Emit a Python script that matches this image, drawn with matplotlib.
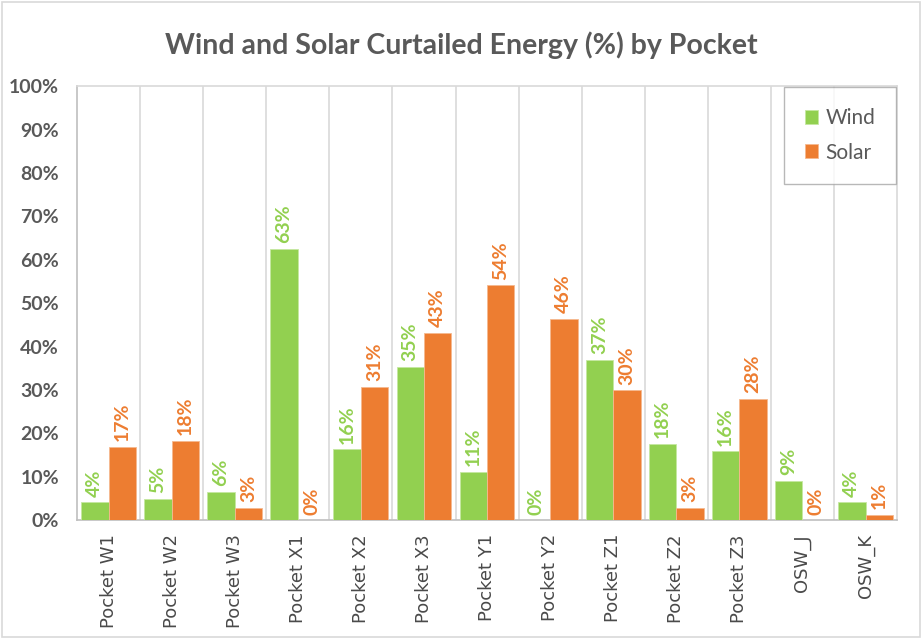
import numpy as np
import matplotlib
matplotlib.use("Agg")
import matplotlib.pyplot as plt
from matplotlib.patches import Rectangle

# ─── Data ────────────────────────────────────────────────────────────────────
categories = ["Pocket W1", "Pocket W2", "Pocket W3", "Pocket X1", "Pocket X2",
              "Pocket X3", "Pocket Y1", "Pocket Y2", "Pocket Z1", "Pocket Z2",
              "Pocket Z3", "OSW_J", "OSW_K"]
wind  = [4.1, 4.9, 6.5, 62.6, 16.3, 35.3, 11.1, 0.0, 36.9, 17.6, 15.9, 9.1, 4.1]
solar = [16.9, 18.3, 2.9, 0.0, 30.7, 43.2, 54.1, 46.4, 29.9, 2.8, 28.0, 0.0, 1.3]
y_ticks = [0, 10, 20, 30, 40, 50, 60, 70, 80, 90, 100]

GREEN  = "#92D050"
ORANGE = "#ED7D31"
GREY   = "#595959"
GRID   = "#D9D9D9"

plt.rcParams["font.family"] = ["Lato", "DejaVu Sans"]

fig = plt.figure(figsize=(9.22, 6.39), dpi=100)
ax = fig.add_axes([0.0835, 0.186, 0.8895, 0.679])

x = np.arange(len(categories))
w = 0.435
b1 = ax.bar(x - w / 2, wind,  w, color=GREEN,  edgecolor="#C5E8A0", linewidth=0.6, label="Wind", zorder=3)
b2 = ax.bar(x + w / 2, solar, w, color=ORANGE, edgecolor="#F6B98F", linewidth=0.6, label="Solar", zorder=3)

# data labels
for bars, vals, col in ((b1, wind, GREEN), (b2, solar, ORANGE)):
    for rect, v in zip(bars, vals):
        ax.annotate(f"{v:.0f}%", (rect.get_x() + rect.get_width() / 2, v),
                    xytext=(0, 4), textcoords="offset points",
                    rotation=90, ha="center", va="bottom",
                    fontsize=14, fontweight="bold", color=col)

ax.set_xlim(-0.5, len(categories) - 0.5)
ax.set_ylim(0, 100)
ax.set_yticks(y_ticks)
ax.set_yticklabels([f"{t}%" for t in y_ticks], fontsize=14, fontweight="bold", color=GREY)
ax.set_xticks(x)
ax.set_xticklabels(categories, rotation=90, fontsize=13, color="#4A4A4A",
                   family="DejaVu Sans")
ax.tick_params(axis="x", length=0, pad=10)
ax.tick_params(axis="y", length=0, pad=13)

# vertical separators between categories
for b in np.arange(0.5, len(categories) - 0.5, 1):
    ax.axvline(b, color=GRID, linewidth=1.2, zorder=1)

for s in ax.spines.values():
    s.set_color(GRID)
    s.set_linewidth(1.2)
ax.spines["left"].set_color("#BFBFBF")
ax.spines["bottom"].set_color("#BFBFBF")

leg = ax.legend(loc="upper right", fontsize=15, frameon=True, fancybox=False,
                handlelength=0.65, handleheight=0.65, handletextpad=0.35,
                labelspacing=0.7, borderpad=1.0, borderaxespad=0.05,
                bbox_to_anchor=(1.0, 1.0))
leg.get_frame().set_edgecolor("#A6A6A6")
leg.get_frame().set_linewidth(1.0)
for t in leg.get_texts():
    t.set_color(GREY)

fig.text(0.5, 0.93, "Wind and Solar Curtailed Energy (%) by Pocket", ha="center",
         va="center", fontsize=20.5, fontweight="bold", color=GREY)

fig.patches.append(Rectangle((0.002, 0.003), 0.996, 0.994, transform=fig.transFigure,
                             fill=False, edgecolor="#D9D9D9", linewidth=1.2))

fig.savefig("out.png", dpi=100)
